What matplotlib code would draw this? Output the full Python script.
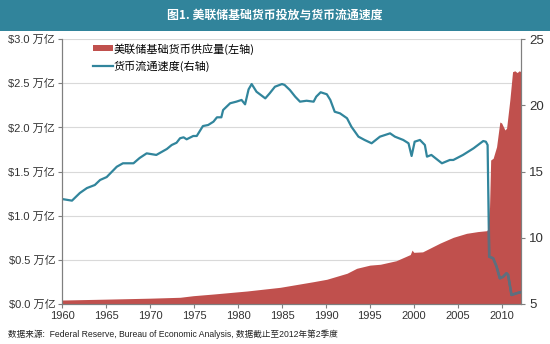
import matplotlib
matplotlib.use("Agg")
import matplotlib.pyplot as plt
from matplotlib.patches import Rectangle

plt.rcParams['font.family'] = ['Liberation Sans', 'Noto Sans CJK SC', 'DejaVu Sans']

# ---- data ----
# 美联储基础货币 (万亿美元, 左轴)
base_years = [1960.0, 1965.0, 1970.0, 1973.4, 1974.9, 1977.2, 1981.0, 1984.8,
              1988.6, 1990.1, 1992.4, 1993.5, 1995.0, 1996.2, 1998.0, 1999.6,
              1999.8, 2000.0, 2001.0, 2002.0, 2003.0, 2004.5, 2006.0, 2007.3,
              2008.3, 2008.5, 2008.62, 2008.75, 2009.03, 2009.42, 2009.79,
              2009.99, 2010.37, 2010.56, 2010.93, 2011.24, 2011.5, 2011.76,
              2011.99, 2012.2]
base_vals = [0.045, 0.055, 0.066, 0.076, 0.094, 0.113, 0.147, 0.189,
             0.253, 0.28, 0.348, 0.404, 0.44, 0.45, 0.49, 0.56,
             0.61, 0.585, 0.59, 0.64, 0.69, 0.755, 0.80, 0.82,
             0.83, 0.84, 1.10, 1.63, 1.65, 1.78, 2.06,
             2.05, 1.97, 1.99, 2.31, 2.63, 2.64, 2.62,
             2.64, 2.63]

# 货币流通速度 (右轴)
vel_years = [1960.0, 1961.1, 1962.0, 1962.8, 1963.7, 1964.3, 1965.05, 1966.2,
             1966.9, 1968.1, 1968.8, 1969.6, 1970.7, 1971.9, 1972.45, 1973.0,
             1973.4, 1973.8, 1974.15, 1974.9, 1975.3, 1976.0, 1976.6, 1977.2,
             1977.6, 1978.1, 1978.3, 1979.1, 1979.8, 1980.4, 1980.8, 1981.2,
             1981.55, 1982.1, 1983.1, 1983.6, 1984.2, 1985.0, 1985.3, 1985.9,
             1986.5, 1987.05, 1987.8, 1988.6, 1988.9, 1989.4, 1990.1, 1990.5,
             1991.0, 1991.6, 1992.4, 1992.9, 1993.7, 1994.4, 1995.2, 1996.15,
             1997.3, 1997.85, 1998.8, 1999.4, 1999.75, 2000.1, 2000.7, 2001.26,
             2001.5, 2002.0, 2003.2, 2004.1, 2004.5, 2005.6, 2006.8, 2007.9,
             2008.2, 2008.4, 2008.58, 2009.03, 2009.42, 2009.79, 2010.17,
             2010.55, 2010.73, 2011.12, 2011.69, 2012.2]
vel_vals = [12.92, 12.80, 13.38, 13.75, 13.98, 14.36, 14.58, 15.36,
            15.62, 15.62, 16.02, 16.37, 16.25, 16.70, 17.00, 17.17,
            17.51, 17.58, 17.43, 17.68, 17.68, 18.43, 18.51, 18.76,
            19.09, 19.09, 19.64, 20.15, 20.27, 20.40, 20.07, 21.20,
            21.60, 21.02, 20.52, 20.90, 21.40, 21.60, 21.53, 21.15,
            20.65, 20.27, 20.34, 20.27, 20.65, 20.98, 20.83, 20.40,
            19.51, 19.39, 19.02, 18.38, 17.63, 17.38, 17.13, 17.63,
            17.88, 17.63, 17.38, 17.13, 16.17, 17.25, 17.38, 17.00,
            16.12, 16.25, 15.62, 15.87, 15.87, 16.25, 16.75, 17.30,
            17.25, 17.00, 8.57, 8.45, 7.82, 6.94, 7.06,
            7.32, 7.20, 5.68, 5.81, 5.90]

left_ticks = [0.0, 0.5, 1.0, 1.5, 2.0, 2.5, 3.0]
left_labels = ['$0.0 万亿', '$0.5 万亿', '$1.0 万亿', '$1.5 万亿',
               '$2.0 万亿', '$2.5 万亿', '$3.0 万亿']
right_ticks = [5, 10, 15, 20, 25]
year_ticks = [1960, 1965, 1970, 1975, 1980, 1985, 1990, 1995, 2000, 2005, 2010]

red = '#c0504d'
teal = '#31859c'
grey_line = '#5f6e7d'
spine_c = '#7f7f7f'

fig = plt.figure(figsize=(5.5, 3.44), dpi=100)
ax = fig.add_axes([62.3 / 550, 1 - 304 / 344, (521 - 62.3) / 550, 265 / 344])
ax2 = ax.twinx()

# title bar
fig.patches.append(Rectangle((0, 1 - 31 / 344), 1, 31 / 344, transform=fig.transFigure,
                             facecolor='#31849b', edgecolor='none', zorder=0))
fig.text(0.5, 1 - 15.5 / 344, '图1. 美联储基础货币投放与货币流通速度', color='white',
         fontsize=8.6, fontweight='bold', ha='center', va='center',
         family=['Noto Sans CJK SC', 'DejaVu Sans'])

# area on left axis
poly = ax.fill_between(base_years, 0, base_vals, color=red, linewidth=0,
                       label='美联储基础货币供应量(左轴)')
ax.set_xlim(1960, 2012.2)
ax.set_ylim(0, 3.0)
ax.set_yticks(left_ticks)
ax.set_yticklabels(left_labels)
ax.set_xticks(year_ticks)
ax.set_axisbelow(True)
ax.yaxis.grid(True, color='#d9d9d9', linewidth=0.8)
ax.tick_params(axis='y', labelsize=8, length=3, width=0.8, color=spine_c,
               pad=2, labelcolor='#333333')
ax.tick_params(axis='x', labelsize=8, length=3, width=0.8, color=spine_c,
               pad=2, labelcolor='#333333')

# velocity line on right axis (grey where it crosses the red area)
ln, = ax2.plot(vel_years, vel_vals, color=teal, linewidth=1.6,
               label='货币流通速度(右轴)')
ln_grey, = ax2.plot(vel_years, vel_vals, color=grey_line, linewidth=1.8)
ln_grey.set_clip_path(poly.get_paths()[0], ax.transData)
ax2.set_ylim(5, 25)
ax2.set_yticks(right_ticks)
ax2.tick_params(axis='y', labelsize=9.5, length=3, width=0.8, color=spine_c,
                pad=3, labelcolor='#333333')

for a in (ax, ax2):
    a.spines['top'].set_visible(False)
    for s in ('left', 'right', 'bottom'):
        a.spines[s].set_color(spine_c)
        a.spines[s].set_linewidth(0.8)

ax.legend([poly, ln], ['美联储基础货币供应量(左轴)', '货币流通速度(右轴)'],
          loc='upper left', bbox_to_anchor=(0.066, 0.985), frameon=False,
          borderpad=0, borderaxespad=0, handlelength=1.8,
          handleheight=0.45, handletextpad=0.1, labelspacing=0.55,
          prop={'family': ['Noto Sans CJK SC', 'DejaVu Sans'], 'size': 8})

fig.text(8 / 550, 1 - 334 / 344,
         '数据来源:  Federal Reserve, Bureau of Economic Analysis, 数据截止至2012年第2季度',
         fontsize=6.2, ha='left', va='center', color='#222222')

fig.savefig('out.png', dpi=100)
